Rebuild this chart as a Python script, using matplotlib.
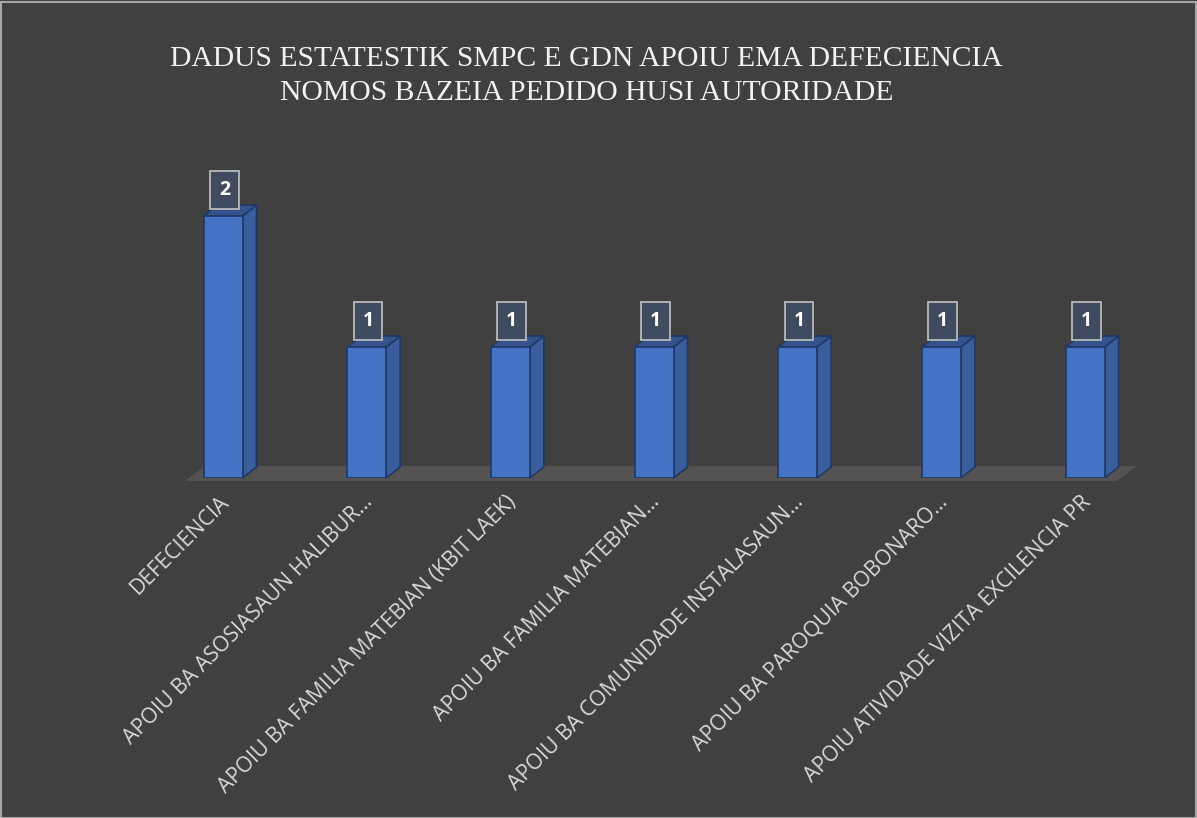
import matplotlib
matplotlib.use("Agg")
import matplotlib.pyplot as plt
from matplotlib.patches import Polygon, Rectangle

# Data
categories = [
    "DEFECIENCIA",
    "APOIU BA ASOSIASAUN HALIBUR…",
    "APOIU BA FAMILIA MATEBIAN (KBIT LAEK)",
    "APOIU BA FAMILIA MATEBIAN…",
    "APOIU BA COMUNIDADE INSTALASAUN…",
    "APOIU BA PAROQUIA BOBONARO…",
    "APOIU ATIVIDADE VIZITA EXCILENCIA PR",
]
values = [2, 1, 1, 1, 1, 1, 1]
title = "DADUS ESTATESTIK SMPC E GDN APOIU EMA DEFECIENCIA\nNOMOS BAZEIA PEDIDO HUSI AUTORIDADE"

bg = "#404040"
front_col = "#4472c4"
side_col = "#3a5d9c"
top_col = "#34528c"
edge_col = "#1f3864"

W, H = 1197, 818
fig = plt.figure(figsize=(W / 100, H / 100), dpi=100, facecolor=bg)

# axes placed in pixels: x center 0 -> 223 px, step 143.67 px; y 0 -> 478 px, 1 unit = 131 px
x0_px, step_px = 223, 143.67
left_px = x0_px - 0.5 * step_px
ax_w_px = 7 * step_px
base_px, unit_px = 478, 131
y_top = 2.5
ax = fig.add_axes([left_px / W, (H - base_px) / H, ax_w_px / W, y_top * unit_px / H])
ax.set_xlim(-0.5, 6.5)
ax.set_ylim(0, y_top)
ax.set_facecolor("none")
ax.axis("off")

# 3D depth in data units
dx = 14 / step_px
dy = 11 / unit_px
bar_w = 39 / step_px

# floor
fl_l = -0.5 + (185 - left_px) / step_px
fl_r = -0.5 + (1117 - left_px) / step_px
fy0 = -3 / unit_px
floor = Polygon([(fl_l, fy0), (fl_r, fy0), (fl_r + 20 / step_px, fy0 + 15 / unit_px),
                 (fl_l + 20 / step_px, fy0 + 15 / unit_px)],
                closed=True, facecolor="#545252", edgecolor="none", clip_on=False, zorder=1)
ax.add_patch(floor)

xs = list(range(len(categories)))
bars = ax.bar(xs, values, width=bar_w, color=front_col, edgecolor=edge_col,
              linewidth=1.2, zorder=3)

for b, v in zip(bars, values):
    xl = b.get_x()
    xr = xl + b.get_width()
    side = Polygon([(xr, 0), (xr + dx, dy), (xr + dx, v + dy), (xr, v)], closed=True,
                   facecolor=side_col, edgecolor=edge_col, linewidth=1.2, zorder=2, clip_on=False)
    top = Polygon([(xl, v), (xr, v), (xr + dx, v + dy), (xl + dx, v + dy)], closed=True,
                  facecolor=top_col, edgecolor=edge_col, linewidth=1.2, zorder=2, clip_on=False)
    ax.add_patch(side)
    ax.add_patch(top)
    ax.text(b.get_x() + b.get_width() / 2 + 0.01, v + 0.2, str(v), ha="center", va="center",
            color="white", fontsize=14, fontweight="bold", family="Open Sans", zorder=5,
            bbox=dict(boxstyle="square,pad=0.45", facecolor="#404c62", edgecolor="#bfbfbf",
                      linewidth=1.3, alpha=0.95))

# rotated category labels
for x, lab in zip(xs, categories):
    ax.text(x + 0.02, -0.16, lab, rotation=45, rotation_mode="anchor", ha="right", va="center",
            color="#d9d9d9", fontsize=15.3, family="Open Sans", clip_on=False)

fig.text(0.49, 1 - 100 / H, title, ha="center", va="baseline", color="#f2f2f2",
         fontsize=21.3, family="Liberation Serif", linespacing=1.38)

# outer border
fig.patches.append(Rectangle((0.5 / W, 0.5 / H), 1 - 2 / W, 1 - 2 / H,
                             transform=fig.transFigure, fill=False,
                             edgecolor="#a6a6a6", linewidth=1.5))

fig.savefig("out.png", dpi=100, facecolor=bg)
